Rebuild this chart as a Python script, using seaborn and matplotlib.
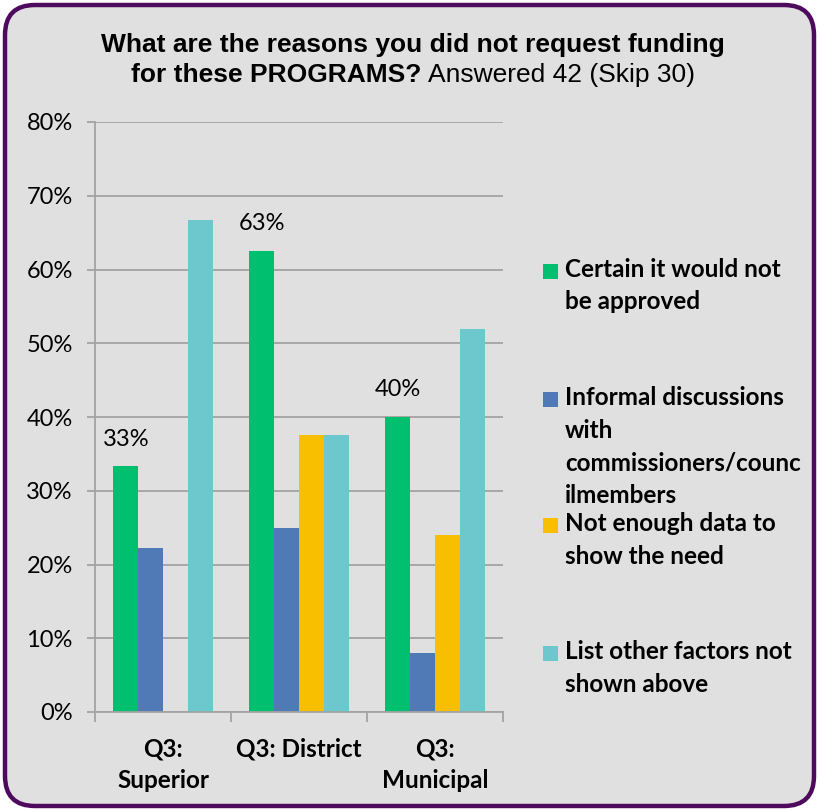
import matplotlib
matplotlib.use("Agg")
import matplotlib.pyplot as plt
import seaborn as sns
import pandas as pd
from matplotlib import font_manager
from matplotlib.font_manager import FontProperties
from matplotlib.patches import FancyBboxPatch, Rectangle
from matplotlib.transforms import IdentityTransform, offset_copy
from matplotlib.ticker import FuncFormatter, FixedLocator, NullFormatter

# ---------------- data ----------------
categories = ["Q3:\nSuperior", "Q3: District", "Q3:\nMunicipal"]
reasons = [
    "Certain it would not\nbe approved",
    "Informal discussions\nwith\ncommissioners/counc\nilmembers",
    "Not enough data to\nshow the need",
    "List other factors not\nshown above",
]
certain = [33.3, 62.5, 40.0]
informal = [22.2, 25.0, 8.0]
not_enough = [0.0, 37.5, 24.0]
other_factors = [66.7, 37.5, 52.0]
green_labels = ["33%", "63%", "40%"]
y_ticks = [0, 10, 20, 30, 40, 50, 60, 70, 80]
colors = ["#00BF6F", "#4F7AB5", "#F8BF00", "#6CC8CC"]

series = [certain, informal, not_enough, other_factors]
rows = []
for r, vals in zip(reasons, series):
    for c, v in zip(categories, vals):
        rows.append({"category": c, "reason": r, "value": v})
df = pd.DataFrame(rows)

# ---------------- fonts ----------------
names = {f.name for f in font_manager.fontManager.ttflist}
body_font = "Lato" if "Lato" in names else "DejaVu Sans"
bold_path = font_manager.findfont(FontProperties(family=body_font, weight="bold"))
title_font = "Liberation Sans"

def bold_fp(size):
    return FontProperties(fname=bold_path, size=size)

# ---------------- figure ----------------
W, H = 819, 811
fig = plt.figure(figsize=(W / 100, H / 100), dpi=100)
fig.patch.set_facecolor("white")
frame = FancyBboxPatch((5, 5), W - 10, H - 10,
                       boxstyle="round,pad=0,rounding_size=30",
                       transform=IdentityTransform(),
                       facecolor="#E0E0E0", edgecolor="#4E0B5E",
                       linewidth=3.2, zorder=-10)
fig.add_artist(frame)

left, right, top, bottom = 95, 503, 122, 712
ax = fig.add_axes([left / W, 1 - bottom / H, (right - left) / W, (bottom - top) / H])
ax.set_facecolor("none")

sns.barplot(data=df, x="category", y="value", hue="reason", palette=colors,
            width=0.73, gap=0, saturation=1, errorbar=None, legend=False,
            linewidth=0, ax=ax)

ax.set_ylim(0, 80)
ax.set_xlim(-0.5, 2.5)
ax.set_yticks(y_ticks)
ax.yaxis.set_major_formatter(FuncFormatter(lambda v, p: f"{v:.0f}%"))
grid_c = "#A3A3A3"
ax.yaxis.grid(True, color=grid_c, linewidth=1.3, zorder=0)
ax.set_axisbelow(True)
for s in ["top", "right"]:
    ax.spines[s].set_visible(False)
for s in ["left", "bottom"]:
    ax.spines[s].set_color(grid_c)
    ax.spines[s].set_linewidth(1.3)
ax.tick_params(axis="y", length=6, width=1.3, color=grid_c, pad=10,
               labelsize=17, labelcolor="black")
for t in ax.get_yticklabels():
    t.set_fontfamily(body_font)

# category axis: boundary ticks, bold category labels
ax.set_xticks([0, 1, 2])
ax.xaxis.set_major_formatter(NullFormatter())
ax.tick_params(axis="x", which="major", length=0)
ax.xaxis.set_minor_locator(FixedLocator([-0.5, 0.5, 1.5, 2.5]))
ax.tick_params(axis="x", which="minor", length=7, width=1.3, color=grid_c)
ax.set_xlabel("")
ax.set_ylabel("")
lab_tr = offset_copy(ax.get_xaxis_transform(), fig=fig, y=-18, units="points")
for i, c in enumerate(categories):
    ax.text(i, 0, c, transform=lab_tr, ha="center", va="top",
            fontproperties=bold_fp(17.5), linespacing=1.5)

# data labels on green bars
ax.bar_label(ax.containers[0], labels=green_labels, padding=12,
             fontsize=17, fontfamily=body_font)

# ---------------- legend ----------------
legend_centers = [270, 398, 524, 652]
for col, lab, yc in zip(colors, reasons, legend_centers):
    fig.text(565 / W, 1 - (yc - 12) / H, lab, ha="left", va="top",
             fontproperties=bold_fp(17.5), linespacing=1.5)
    fig.add_artist(Rectangle((543 / W, 1 - (yc + 9) / H), 15 / W, 15 / H,
                             transform=fig.transFigure, facecolor=col,
                             edgecolor="none"))

# ---------------- title ----------------
fig.text(413 / W, 1 - 45 / H, "What are the reasons you did not request funding",
         ha="center", va="center", fontsize=19, fontweight="bold",
         fontfamily=title_font)
renderer = fig.canvas.get_renderer()
t1 = fig.text(0, 1 - 75 / H, "for these PROGRAMS? ", ha="left", va="center",
              fontsize=19, fontweight="bold", fontfamily=title_font)
t2 = fig.text(0, 1 - 75 / H, "Answered 42 (Skip 30)", ha="left", va="center",
              fontsize=19, fontfamily=title_font)
w1 = t1.get_window_extent(renderer).width
w2 = t2.get_window_extent(renderer).width
x0 = 413 - (w1 + w2) / 2
t1.set_x(x0 / W)
t2.set_x((x0 + w1) / W)

fig.savefig("out.png", dpi=100, facecolor=fig.get_facecolor())
